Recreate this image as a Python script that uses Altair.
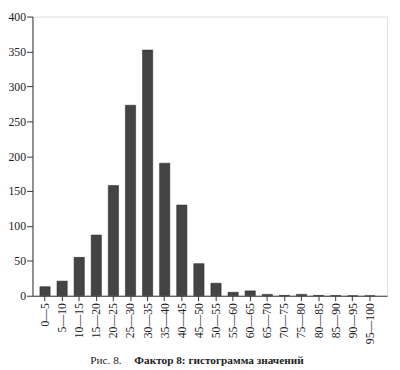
import altair as alt
import pandas as pd

categories = ["0—5", "5—10", "10—15", "15—20", "20—25", "25—30", "30—35", "35—40",
              "40—45", "45—50", "50—55", "55—60", "60—65", "65—70", "70—75", "75—80",
              "80—85", "85—90", "90—95", "95—100"]
counts = [13, 21, 55, 87, 158, 273, 352, 190, 130, 46, 18, 5, 7, 2, 0.5, 2, 0.5, 0.3, 0, 0]
y_ticks = [0, 50, 100, 150, 200, 250, 300, 350, 400]
caption_left = "Рис. 8."
caption_bold = "Фактор 8: гистограмма значений"

df = pd.DataFrame({"cat": categories, "n": counts})

FONT = "Liberation Serif"

bars = alt.Chart(df).mark_bar(color="#444444", stroke="#222222", strokeWidth=0.5).encode(
    x=alt.X("cat:N", sort=categories,
            scale=alt.Scale(paddingInner=0.4, paddingOuter=0.57, align=0.38),
            axis=alt.Axis(title=None, labelAngle=-90, labelFont=FONT, labelFontSize=12,
                          labelColor="#222", tickSize=5, tickColor="#333", labelPadding=2,
                          domainColor="#333", labelBaseline="middle", labelAlign="right")),
    y=alt.Y("n:Q", scale=alt.Scale(domain=[0, 400], nice=False),
            axis=alt.Axis(title=None, values=y_ticks, grid=False, labelFont=FONT,
                          labelFontSize=12, labelColor="#222", tickSize=6, tickColor="#333",
                          labelPadding=1, domainColor="#333")),
)

cap1 = alt.Chart(pd.DataFrame({"t": [caption_left]})).mark_text(
    font=FONT, fontSize=11.5, align="left", baseline="middle", color="#222"
).encode(text="t:N", x=alt.value(59), y=alt.value(352))

cap2 = alt.Chart(pd.DataFrame({"t": [caption_bold]})).mark_text(
    font=FONT, fontSize=11.5, fontWeight="bold", align="left", baseline="middle", color="#222"
).encode(text="t:N", x=alt.value(104), y=alt.value(352))

chart = alt.layer(bars, cap1, cap2).properties(
    width=362, height=285,
    autosize=alt.AutoSizeParams(type="none"),
    padding={"left": 25, "top": 5, "right": 5, "bottom": 70},
).configure_view(stroke="#333", strokeWidth=1).configure(background="white")

chart.save("out.html", embed_options={"renderer": "svg", "actions": False})
